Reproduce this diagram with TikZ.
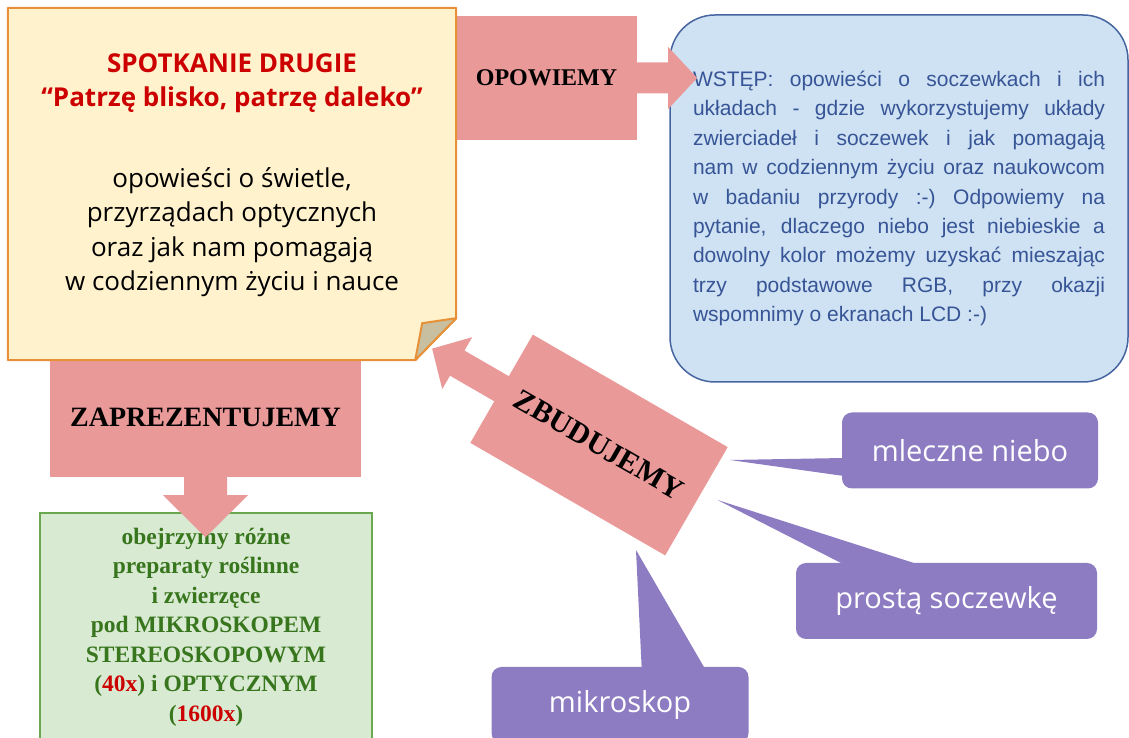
\documentclass[tikz,border=0pt]{standalone}
\usepackage{fontspec}
\setmainfont{Liberation Serif}
\newfontfamily\comicfont{Open Sans}
\newfontfamily\arialfont{Liberation Sans}
\usetikzlibrary{calc}
\definecolor{notefill}{HTML}{FFF2CC}
\definecolor{noteedge}{HTML}{E69138}
\definecolor{foldfill}{RGB}{200,190,160}
\definecolor{arrowpink}{HTML}{EA9999}
\definecolor{wstepfill}{HTML}{CFE2F3}
\definecolor{wstepedge}{RGB}{70,100,160}
\definecolor{wsteptext}{RGB}{55,85,150}
\definecolor{zielfill}{HTML}{D9EAD3}
\definecolor{zieledge}{HTML}{6AA84F}
\definecolor{zieltext}{HTML}{38761D}
\definecolor{fiolet}{HTML}{8E7CC3}
\definecolor{czerwony}{HTML}{CC0000}

% shaft + head of a block arrow, from an anchor, in direction #2
\newcommand{\arrowtail}[6]{%
  \fill[blockarrow, shift={(#1)}, rotate=#2]
    (-1,-#4) -- (#3,-#4) -- (#3,-#6) -- (#3+#5,0) -- (#3,#6) -- (#3,#4) -- (-1,#4) -- cycle;}

\begin{document}
\begin{tikzpicture}[x=1pt, y=1pt,
  blockarrow/.style={fill=arrowpink},
  arrowlabel/.style={blockarrow, inner sep=0pt},
  bubble/.style={fill=fiolet, rounded corners=10pt, text=white, inner sep=0pt, minimum height=76pt,
    font=\comicfont\fontsize{29}{34}\selectfont}]
\useasboundingbox (0,0) rectangle (1129,738);

\node[draw=wstepedge, line width=1.5pt, fill=wstepfill, rounded corners=45pt,
  minimum width=458pt, minimum height=367pt, inner xsep=23pt, text width=412pt, align=justify,
  text=wsteptext, font=\arialfont\fontsize{21}{29.4}\selectfont] (wstep) at (899,539.5)
  {\tolerance=9999\relax
   WSTĘP: opowieści o soczewkach i ich\linebreak
   układach - gdzie wykorzystujemy układy\linebreak
   zwierciadeł i soczewek i jak pomagają\linebreak
   nam w codziennym życiu oraz naukowcom\linebreak
   w badaniu przyrody :-) Odpowiemy na\linebreak
   pytanie, dlaczego niebo jest niebieskie a\linebreak
   dowolny kolor możemy uzyskać mieszając\linebreak
   trzy podstawowe RGB, przy okazji\linebreak
   wspomnimy o ekranach LCD :-)};

\node[draw=zieledge, line width=1.2pt, fill=zielfill, minimum width=332pt, minimum height=228pt,
  align=center, text=zieltext, font=\bfseries\fontsize{23.5}{29.5}\selectfont] (preparaty) at (206,111)
  {obejrzymy różne\\ preparaty roślinne\\ i zwierzęce\\ pod MIKROSKOPEM\\ STEREOSKOPOWYM\\
   (\textcolor{czerwony}{40x}) i OPTYCZNYM\\ (\textcolor{czerwony}{1600x})};

\node[arrowlabel, minimum width=181pt, minimum height=124pt, font=\bfseries\fontsize{24}{28}\selectfont]
  (opowiemy) at (546.5,660) {OPOWIEMY};
\arrowtail{opowiemy.east}{0}{31}{15.5}{29}{31}

\node[arrowlabel, minimum width=311pt, minimum height=119pt, font=\bfseries\fontsize{28}{32}\selectfont]
  (zaprezentujemy) at (205.5,320.5) {ZAPREZENTUJEMY};
\arrowtail{zaprezentujemy.south}{-90}{18}{21.5}{42}{42.5}

% kartka z zagietym rogiem
\node[minimum width=448pt, minimum height=352pt, inner sep=0pt] (kartka) at (232,554) {};
\filldraw[fill=notefill, draw=noteedge, line width=2pt, line join=round]
  (kartka.north west) -- (kartka.north east) -- ($(kartka.south east)+(0,42)$)
  -- ($(kartka.south east)+(-41,0)$) -- (kartka.south west) -- cycle;
\filldraw[fill=foldfill, draw=noteedge, line width=2pt, line join=round]
  ($(kartka.south east)+(0,42)$) -- ($(kartka.south east)+(-34,37)$) -- ($(kartka.south east)+(-41,0)$) -- cycle;
\node[align=center, font=\comicfont\fontsize{26}{34.5}\selectfont] (spotkanie) at (232,563)
  {\textcolor{czerwony}{\bfseries SPOTKANIE DRUGIE}\\
   \textcolor{czerwony}{\bfseries “Patrzę blisko, patrzę daleko”}\\[46pt]
   opowieści o świetle,\\ przyrządach optycznych\\ oraz jak nam pomagają\\ w codziennym życiu i nauce};

\node[arrowlabel, rotate=-30, minimum width=225pt, minimum height=125pt,
  font=\bfseries\fontsize{30}{34}\selectfont] (zbudujemy) at (599,293) {ZBUDUJEMY};
\arrowtail{zbudujemy.west}{150}{51}{14.5}{29}{30}

% dymki
\node[bubble, minimum width=256pt] (niebo) at (970,287.5) {mleczne niebo};
\node[bubble, minimum width=301pt] (soczewka) at (946.5,137) {prostą soczewkę};
\node[bubble, minimum width=257pt] (mikroskop) at (620,33) {mikroskop};
\coordinate (nieboTip) at (730,278);
\coordinate (soczewkaTip) at (717.5,238);
\coordinate (mikroskopTip) at (636,188);
\fill[fiolet] ($(niebo.west)+(2,-7.5)$) -- (nieboTip) -- ($(niebo.west)+(2,-25.5)$) -- cycle;
\fill[fiolet] ($(soczewka.north)+(-102,-2)$) -- (soczewkaTip) -- ($(soczewka.north)+(-27,-2)$) -- cycle;
\fill[fiolet] ($(mikroskop.north)+(21.7,-2)$) -- (mikroskopTip) -- ($(mikroskop.north)+(85,-2)$) -- cycle;
\end{tikzpicture}
\end{document}
